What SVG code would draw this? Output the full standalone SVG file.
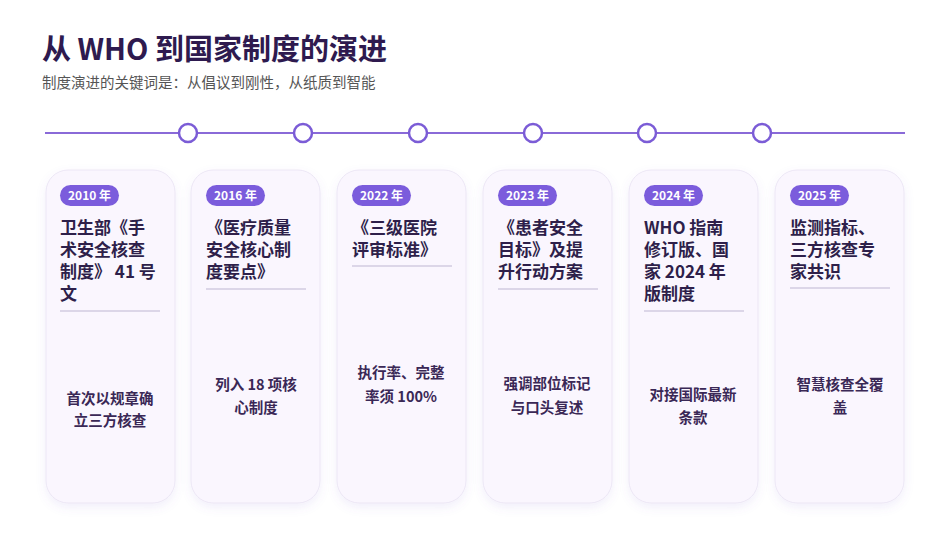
<svg xmlns="http://www.w3.org/2000/svg" width="950" height="535" viewBox="0 0 950 535">
<defs>
<filter id="sh" x="-20%" y="-10%" width="140%" height="130%"><feDropShadow dx="0" dy="4" stdDeviation="5" flood-color="#7b5cd6" flood-opacity="0.10"/></filter>
<style>
text{font-family:"Noto Sans CJK SC","Noto Sans",sans-serif}
.card{fill:#faf6fe;stroke:#ece6f5;stroke-width:1;filter:url(#sh)}
.pill{fill:#7b5cdc}
.yr{fill:#fff;font-size:12px;font-weight:700}
.tt{fill:#2e1f4a;font-size:17px;font-weight:700}
.dv{stroke:#dcd6e8;stroke-width:2}
.bd{fill:#3a2856;font-size:14.5px;font-weight:700;text-anchor:middle}
.dot{fill:#fff;stroke:#7b5cd6;stroke-width:2.5}
</style>
</defs>
<rect width="950" height="535" fill="#fff"/>
<text x="42" y="60" font-size="29" font-weight="700" fill="#2e1a4f">从 WHO 到国家制度的演进</text>
<text x="42" y="88" font-size="14.5" fill="#555">制度演进的关键词是：从倡议到刚性，从纸质到智能</text>
<g id="connectors">
<line x1="45" y1="133" x2="905" y2="133" stroke="#8a6ad8" stroke-width="2"/>
<circle class="dot" cx="188" cy="133" r="9"/><circle class="dot" cx="303" cy="133" r="9"/><circle class="dot" cx="418" cy="133" r="9"/><circle class="dot" cx="533" cy="133" r="9"/><circle class="dot" cx="647" cy="133" r="9"/><circle class="dot" cx="762" cy="133" r="9"/>
</g>
<g id="c1"><rect class="card" x="46" y="170" width="129" height="333" rx="22"/><rect class="pill" x="60" y="185" width="59" height="21" rx="10.5"/><text class="yr" x="89.5" y="200" text-anchor="middle">2010 年</text>
<text class="tt" x="60" y="234">卫生部《手</text><text class="tt" x="60" y="256">术安全核查</text><text class="tt" x="60" y="278">制度》 41 号</text><text class="tt" x="60" y="300">文</text>
<line class="dv" x1="60" y1="311" x2="160" y2="311"/><text class="bd" x="110" y="404">首次以规章确</text><text class="bd" x="110" y="426">立三方核查</text></g>
<g id="c2"><rect class="card" x="191" y="170" width="129" height="333" rx="22"/><rect class="pill" x="206" y="185" width="59" height="21" rx="10.5"/><text class="yr" x="235.5" y="200" text-anchor="middle">2016 年</text>
<text class="tt" x="206" y="234">《医疗质量</text><text class="tt" x="206" y="256">安全核心制</text><text class="tt" x="206" y="278">度要点》</text>
<line class="dv" x1="206" y1="289" x2="306" y2="289"/><text class="bd" x="256" y="390">列入 18 项核</text><text class="bd" x="256" y="413">心制度</text></g>
<g id="c3"><rect class="card" x="337" y="170" width="129" height="333" rx="22"/><rect class="pill" x="352" y="185" width="59" height="21" rx="10.5"/><text class="yr" x="381.5" y="200" text-anchor="middle">2022 年</text>
<text class="tt" x="352" y="234">《三级医院</text><text class="tt" x="352" y="256">评审标准》</text>
<line class="dv" x1="352" y1="266" x2="452" y2="266"/><text class="bd" x="401" y="378">执行率、完整</text><text class="bd" x="401" y="402">率须  100%</text></g>
<g id="c4"><rect class="card" x="483" y="170" width="129" height="333" rx="22"/><rect class="pill" x="498" y="185" width="59" height="21" rx="10.5"/><text class="yr" x="527.5" y="200" text-anchor="middle">2023 年</text>
<text class="tt" x="498" y="234">《患者安全</text><text class="tt" x="498" y="256">目标》及提</text><text class="tt" x="498" y="278">升行动方案</text>
<line class="dv" x1="498" y1="289" x2="598" y2="289"/><text class="bd" x="547" y="389">强调部位标记</text><text class="bd" x="547" y="413">与口头复述</text></g>
<g id="c5"><rect class="card" x="629" y="170" width="129" height="333" rx="22"/><rect class="pill" x="644" y="185" width="59" height="21" rx="10.5"/><text class="yr" x="673.5" y="200" text-anchor="middle">2024 年</text>
<text class="tt" x="644" y="234">WHO 指南</text><text class="tt" x="644" y="256">修订版、国</text><text class="tt" x="644" y="278">家 2024 年</text><text class="tt" x="644" y="300">版制度</text>
<line class="dv" x1="644" y1="311" x2="744" y2="311"/><text class="bd" x="693" y="400">对接国际最新</text><text class="bd" x="693" y="423">条款</text></g>
<g id="c6"><rect class="card" x="775" y="170" width="129" height="333" rx="22"/><rect class="pill" x="790" y="185" width="59" height="21" rx="10.5"/><text class="yr" x="819.5" y="200" text-anchor="middle">2025 年</text>
<text class="tt" x="790" y="234">监测指标、</text><text class="tt" x="790" y="256">三方核查专</text><text class="tt" x="790" y="278">家共识</text>
<line class="dv" x1="790" y1="288" x2="890" y2="288"/><text class="bd" x="840" y="390">智慧核查全覆</text><text class="bd" x="840" y="413">盖</text></g>
</svg>
